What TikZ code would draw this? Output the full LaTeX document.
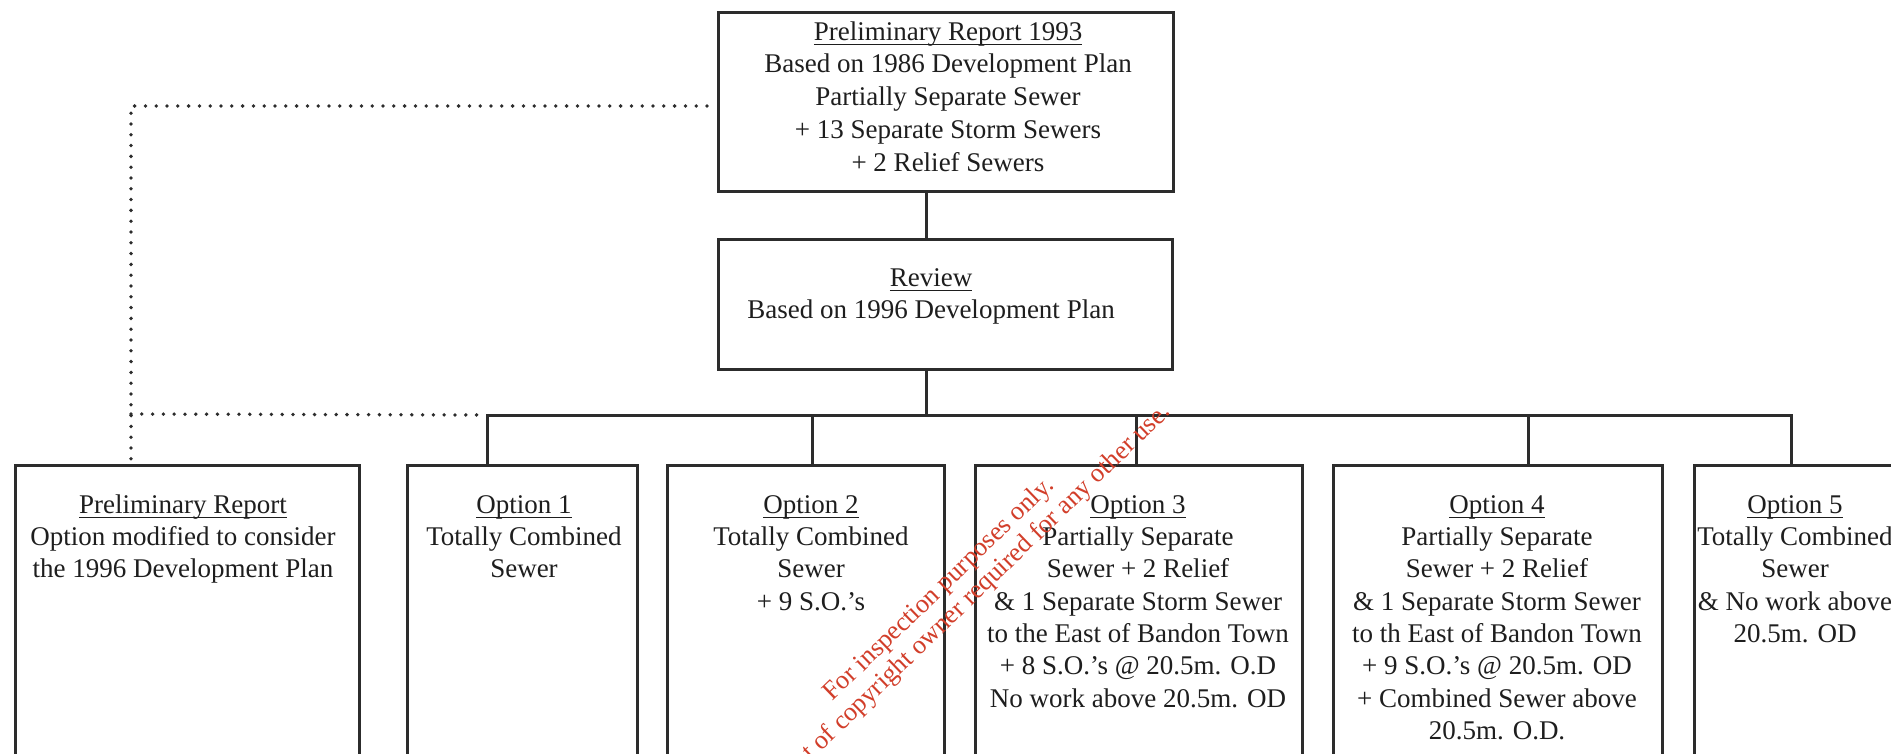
\documentclass[tikz,border=0pt]{standalone}
\usepackage{fontspec}
\setmainfont{Liberation Serif}
\definecolor{ink}{HTML}{1E1E1E}
\definecolor{linec}{HTML}{2C2C2C}
\definecolor{wmred}{RGB}{210,62,42}
\newsavebox\ulbox
\newcommand{\ulined}[1]{\sbox\ulbox{#1}\rlap{\rule[-5pt]{\wd\ulbox}{1.6pt}}\usebox\ulbox}
\newcommand{\fl}{\rule{0pt}{20pt}}
\begin{document}
\begin{tikzpicture}[x=1pt,y=-1pt,
  box/.style={draw=linec, line width=3pt, anchor=north west, inner sep=0pt},
  conn/.style={draw=linec, line width=3pt},
  dotline/.style={draw=linec, line width=3.8pt, line cap=round, dash pattern=on 0pt off 10.8pt},
  txt/.style={align=center, inner sep=0pt, anchor=north, text=ink, font=\fontsize{27}{32.3}\selectfont},
  wmark/.style={align=center, inner sep=0pt, text=wmred, font=\fontsize{26.3}{28}\selectfont}]
\useasboundingbox (0,0) rectangle (1891,754);
\fill[white] (0,0) rectangle (1891,754);
\clip (0,0) rectangle (1891,754);

% boxes
\node[box, minimum width=455pt, minimum height=179pt] (top) at (717,11) {};
\node[box, minimum width=454pt, minimum height=130pt] (review) at (717,238) {};
\node[box, minimum width=344pt, minimum height=400pt] (prelim) at (14,464) {};
\node[box, minimum width=230pt, minimum height=400pt] (opt1) at (406,464) {};
\node[box, minimum width=277pt, minimum height=400pt] (opt2) at (666,464) {};
\node[box, minimum width=327pt, minimum height=400pt] (opt3) at (974,464) {};
\node[box, minimum width=329pt, minimum height=400pt] (opt4) at (1332,464) {};
\node[box, minimum width=260pt, minimum height=400pt] (opt5) at (1693,464) {};

% texts
\node[txt, font=\fontsize{27}{32.75}\selectfont] (ttop) at (948,20) {\fl\ulined{Preliminary Report 1993}\\Based on 1986 Development Plan\\Partially Separate Sewer\\+ 13 Separate Storm Sewers\\+ 2 Relief Sewers};
\node[txt, font=\fontsize{27}{32}\selectfont] (treview) at (931,266) {\fl\ulined{Review}\\Based on 1996 Development Plan};
\node[txt] (tprelim) at (183,493) {\fl\ulined{Preliminary Report}\\Option modified to consider\\the 1996 Development Plan};
\node[txt] (topt1) at (524,493) {\fl\ulined{Option 1}\\Totally Combined\\Sewer};
\node[txt] (topt2) at (811,493) {\fl\ulined{Option 2}\\Totally Combined\\Sewer\\+ 9 S.O.'s};
\node[txt] (topt3) at (1138,493) {\fl\ulined{Option 3}\\Partially Separate\\Sewer + 2 Relief\\\& 1 Separate Storm Sewer\\to the East of Bandon Town\\+ 8 S.O.'s @ 20.5m. O.D\\No work above 20.5m. OD};
\node[txt] (topt4) at (1497,493) {\fl\ulined{Option 4}\\Partially Separate\\Sewer + 2 Relief\\\& 1 Separate Storm Sewer\\to th East of Bandon Town\\+ 9 S.O.'s @ 20.5m. OD\\+ Combined Sewer above\\20.5m. O.D.};
\node[txt] (topt5) at (1795,493) {\fl\ulined{Option 5}\\Totally Combined\\Sewer\\\& No work above\\20.5m. OD};

% solid connectors
\coordinate (bc) at (926,415);
\coordinate (b1) at (487,415);
\coordinate (b2) at (812,415);
\coordinate (b3) at (1136,415);
\coordinate (b4) at (1528,415);
\coordinate (b5) at (1791,415);
\draw[conn] (top.south -| bc) -- (review.north -| bc);
\draw[conn] (review.south -| bc) -- (bc);
\draw[conn] (b1 |- opt1.north) -- (b1) -- (b5) -- (b5 |- opt5.north);
\draw[conn] (b2) -- (b2 |- opt2.north);
\draw[conn] (b3) -- (b3 |- opt3.north);
\draw[conn] (b4) -- (b4 |- opt4.north);

% dotted connectors
\coordinate (d1) at (131,106);
\coordinate (d2) at (131,414);
\draw[dotline] ([xshift=-10pt]top.west |- d1) -- (d1) -- (d1 |- prelim.north);
\draw[dotline] (d2) -- ([xshift=-4pt]b1);

% watermark
\node[wmark, rotate=44] (wm) at (949,600) {For inspection purposes only.\\Consent of copyright owner required for any other use.};
\end{tikzpicture}
\end{document}
